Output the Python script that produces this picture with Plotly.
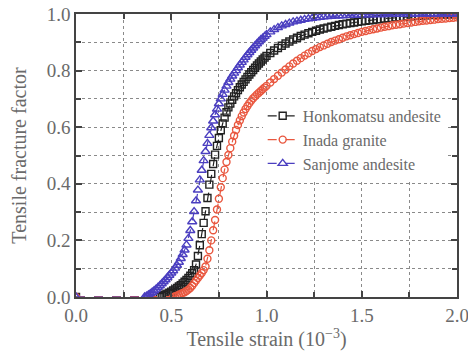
import plotly.graph_objects as go

# Shared strain grid (10^-3) at which the markers sit
strain = [
    0.36, 0.37, 0.38, 0.39, 0.40, 0.41, 0.42, 0.43, 0.44, 0.45,
    0.46, 0.47, 0.48, 0.49, 0.50, 0.51, 0.52, 0.53, 0.54, 0.55,
    0.56, 0.57, 0.58, 0.59, 0.60, 0.61, 0.62, 0.63, 0.64, 0.65,
    0.66, 0.67, 0.68, 0.69, 0.70, 0.71, 0.72, 0.73, 0.74, 0.75,
    0.76, 0.77, 0.78, 0.79, 0.80, 0.81, 0.82, 0.83, 0.84, 0.85,
    0.86, 0.87, 0.88, 0.89, 0.90, 0.91, 0.92, 0.93, 0.94, 0.95,
    0.96, 0.97, 0.98, 0.99, 1.00,
    1.02, 1.04, 1.06, 1.08, 1.10, 1.12, 1.14, 1.16, 1.18, 1.20,
    1.22, 1.24, 1.26, 1.28, 1.30, 1.32, 1.34, 1.36, 1.38, 1.40,
    1.42, 1.44, 1.46, 1.48, 1.50, 1.52, 1.54, 1.56, 1.58, 1.60,
    1.62, 1.64, 1.66, 1.68, 1.70, 1.72, 1.74, 1.76, 1.78, 1.80,
    1.82, 1.84, 1.86, 1.88, 1.90, 1.92, 1.94, 1.96, 1.98, 2.00,
]

# Honkomatsu andesite (starts at 0.44)
honkomatsu = [
    0.000, 0.003, 0.006, 0.009, 0.012, 0.015,
    0.019, 0.023, 0.027, 0.032, 0.037, 0.042, 0.048, 0.054, 0.060, 0.067,
    0.075, 0.084, 0.095, 0.115, 0.145, 0.183, 0.222, 0.262, 0.303, 0.350,
    0.397, 0.435, 0.470, 0.503, 0.534, 0.562, 0.589, 0.613, 0.634, 0.653,
    0.670, 0.684, 0.697, 0.709, 0.720, 0.731, 0.741, 0.751, 0.760, 0.769,
    0.778, 0.786, 0.794, 0.802, 0.810, 0.818, 0.825, 0.832, 0.839, 0.846,
    0.852,
    0.862, 0.871, 0.880, 0.888, 0.896, 0.903, 0.910, 0.916, 0.922, 0.927,
    0.932, 0.937, 0.941, 0.945, 0.949, 0.952, 0.955, 0.958, 0.961, 0.964,
    0.966, 0.968, 0.970, 0.972, 0.974, 0.976, 0.978, 0.979, 0.981, 0.982,
    0.984, 0.985, 0.986, 0.988, 0.989, 0.990, 0.991, 0.992, 0.993, 0.994,
    0.995, 0.995, 0.996, 0.997, 0.997, 0.998, 0.998, 0.999, 0.999, 1.000,
]

# Inada granite (starts at 0.51)
inada = [
    0.000, 0.002, 0.005, 0.008, 0.011, 0.014, 0.017, 0.021, 0.026,
    0.032, 0.040, 0.049, 0.058, 0.067, 0.076, 0.085, 0.095, 0.108, 0.135,
    0.165, 0.200, 0.236, 0.272, 0.309, 0.347, 0.388, 0.420, 0.450, 0.477,
    0.502, 0.526, 0.549, 0.570, 0.590, 0.608, 0.624, 0.639, 0.652, 0.664,
    0.675, 0.685, 0.694, 0.702, 0.709, 0.716, 0.722, 0.728, 0.734, 0.740,
    0.746,
    0.758, 0.770, 0.782, 0.793, 0.804, 0.815, 0.825, 0.835, 0.844, 0.853,
    0.861, 0.869, 0.876, 0.883, 0.889, 0.895, 0.901, 0.906, 0.911, 0.916,
    0.921, 0.925, 0.929, 0.933, 0.937, 0.940, 0.943, 0.946, 0.949, 0.952,
    0.955, 0.957, 0.960, 0.962, 0.964, 0.966, 0.968, 0.970, 0.972, 0.974,
    0.976, 0.977, 0.979, 0.980, 0.982, 0.983, 0.984, 0.986, 0.987, 0.988,
]

# Sanjome andesite (starts at 0.36)
sanjome = [
    0.000, 0.003, 0.007, 0.012, 0.017, 0.022, 0.028, 0.034, 0.040, 0.047,
    0.054, 0.061, 0.069, 0.077, 0.085, 0.093, 0.102, 0.112, 0.123, 0.136,
    0.150, 0.166, 0.184, 0.207, 0.235, 0.266, 0.302, 0.340, 0.378, 0.414,
    0.448, 0.482, 0.514, 0.543, 0.571, 0.598, 0.622, 0.644, 0.664, 0.683,
    0.700, 0.716, 0.731, 0.745, 0.758, 0.770, 0.781, 0.791, 0.800, 0.810,
    0.820, 0.829, 0.838, 0.847, 0.856, 0.864, 0.872, 0.880, 0.888, 0.895,
    0.902, 0.909, 0.915, 0.921, 0.927,
    0.937, 0.945, 0.952, 0.958, 0.963, 0.968, 0.972, 0.975, 0.978, 0.981,
    0.983, 0.985, 0.987, 0.988, 0.990, 0.991, 0.992, 0.993, 0.994, 0.994,
    0.995, 0.995, 0.996, 0.996, 0.997, 0.997, 0.997, 0.998, 0.998, 0.998,
    0.998, 0.999, 0.999, 0.999, 0.999, 0.999, 0.999, 0.999, 1.000, 1.000,
    1.000, 1.000, 1.000, 1.000, 1.000, 1.000, 1.000, 1.000, 1.000, 1.000,
]

x_ticks = [0.0, 0.5, 1.0, 1.5, 2.0]
y_ticks = [0.0, 0.2, 0.4, 0.6, 0.8, 1.0]

series = [
    ("Honkomatsu andesite", honkomatsu, "#222222", "square-open", 7),
    ("Inada granite", inada, "#E9573F", "circle-open", 7),
    ("Sanjome andesite", sanjome, "#4B3FC0", "triangle-up-open", 8),
]

FONT = "Liberation Serif"
TXT = "#6a6a6a"
GRID = "#8a8a8a"
AX = "#444444"

fig = go.Figure()
for name, vals, color, sym, size in series:
    xs = [0.0] + strain[len(strain) - len(vals):]
    ys = [0.0] + vals
    fig.add_trace(go.Scatter(
        x=xs, y=ys, name=name, mode="lines+markers",
        line=dict(color=color, width=1.2, dash="dash"),
        marker=dict(symbol=sym, size=size, color=color, line=dict(color=color, width=1.4)),
    ))

axis_common = dict(
    showline=True, linecolor=AX, linewidth=1.5, mirror="ticks",
    ticks="inside", ticklen=6, tickcolor=AX, tickwidth=1.5,
    showgrid=True, gridcolor=GRID, gridwidth=1, griddash="dot",
    zeroline=False, automargin=False, ticklabeloverflow="allow",
    tickfont=dict(family=FONT, size=19, color=TXT),
)

fig.update_xaxes(
    range=[0, 2.0], tickvals=x_ticks, ticktext=[f"{v:.1f}" for v in x_ticks],
    minor=dict(dtick=0.25, tick0=0, showgrid=True, gridcolor=GRID, griddash="dot",
               gridwidth=1, ticks="inside", ticklen=5, tickcolor=AX),
    title=dict(text="Tensile strain (10<sup>−3</sup>)", standoff=6,
               font=dict(family=FONT, size=20, color=TXT)),
    **axis_common,
)
fig.update_yaxes(
    range=[0, 1.0], tickvals=y_ticks, ticktext=[f"{v:.1f}" for v in y_ticks],
    minor=dict(dtick=0.1, tick0=0, showgrid=True, gridcolor=GRID, griddash="dot",
               gridwidth=1, ticks="inside", ticklen=5, tickcolor=AX),
    title=dict(text="Tensile fracture factor", standoff=15,
               font=dict(family=FONT, size=20, color=TXT)),
    **axis_common,
)

fig.update_layout(
    template="none",
    width=468, height=356,
    margin=dict(l=76, r=11, t=14, b=59),
    plot_bgcolor="white", paper_bgcolor="white",
    font=dict(family=FONT, size=16, color=TXT),
    showlegend=True,
    hovermode=False,
    legend=dict(
        x=0.49, y=0.70, xanchor="left", yanchor="top",
        bgcolor="white", borderwidth=0,
        font=dict(family=FONT, size=16, color=TXT),
        itemwidth=30, tracegroupgap=0,
    ),
)

fig.write_html(
    "out.html",
    config={"displayModeBar": False},
    post_script="document.body.style.margin='0';",
)
